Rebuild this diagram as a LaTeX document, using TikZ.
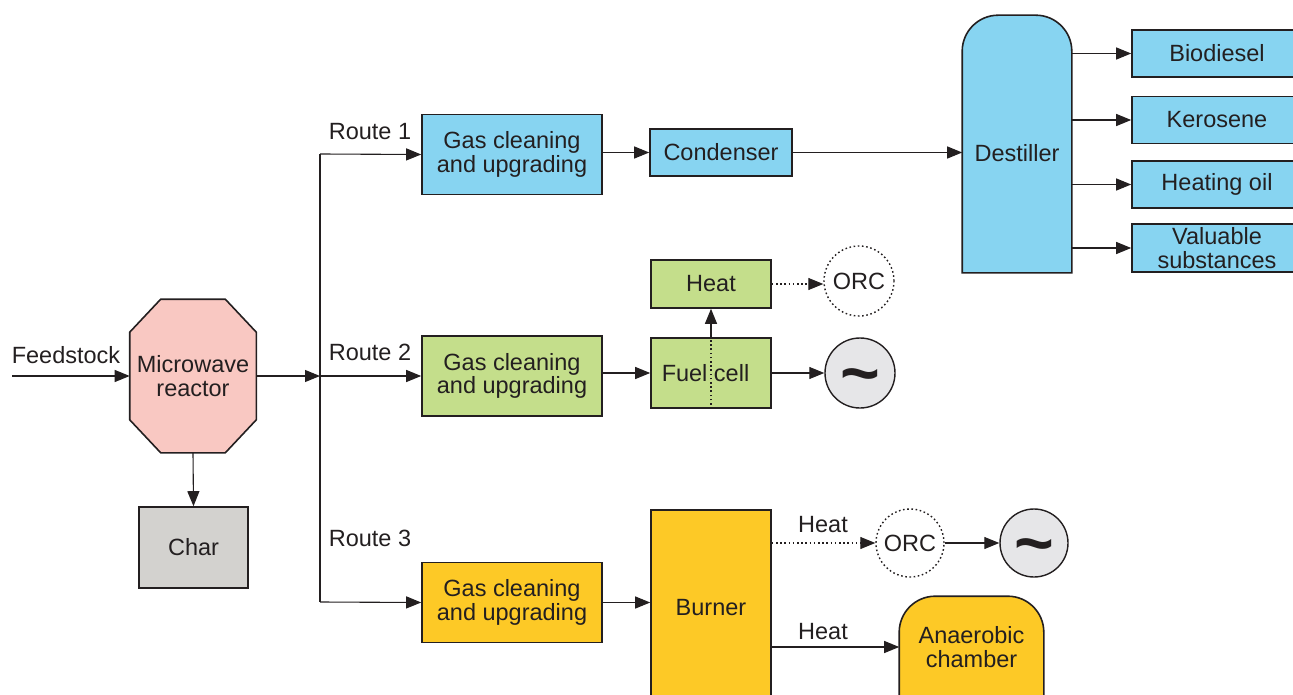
\documentclass[tikz,border=0pt]{standalone}
\usepackage{fontspec}
\setmainfont{Liberation Sans}
\usepackage{tikz}
\usetikzlibrary{arrows.meta,backgrounds}
\definecolor{ink}{HTML}{231F20}
\definecolor{routeone}{HTML}{87D4F1}
\definecolor{routetwo}{HTML}{C4DE8B}
\definecolor{routethree}{HTML}{FDC926}
\definecolor{reactorfill}{HTML}{F9C8C2}
\definecolor{charfill}{HTML}{D3D2CF}
\definecolor{genfill}{HTML}{E6E6E8}
\tikzstyle{box}=[rectangle,draw=ink,line width=1.6pt,inner sep=0pt,align=center,text=ink]
\tikzstyle{gasbox}=[box,minimum width=180pt,minimum height=80pt]
\tikzstyle{outbox}=[box,fill=routeone,minimum width=170pt,minimum height=47pt]
\tikzstyle{orc}=[circle,draw=ink,line width=1.4pt,dash pattern=on 1.6pt off 2.6pt,fill=white,inner sep=0pt,text=ink]
\tikzstyle{gen}=[circle,draw=ink,line width=1.4pt,fill=genfill,inner sep=0pt,text=ink]
\tikzstyle{outline}=[draw=ink,line width=1.6pt]
\tikzstyle{conn}=[draw=ink,line width=1.1pt]
\tikzstyle{arr}=[conn,-{Triangle[length=15pt,width=12pt]}]
\tikzstyle{dotarr}=[arr,dash pattern=on 1.6pt off 2.6pt]
\tikzstyle{txt}=[text=ink,inner sep=0pt]
\newcommand{\gensym}{\raisebox{-23pt}[0pt][0pt]{\fontsize{68}{68}\selectfont\bfseries\textasciitilde}}

\begin{document}
\begin{tikzpicture}[x=1pt,y=-1pt,every node/.style={font=\fontsize{23.5}{23.5}\selectfont}]
        \useasboundingbox (0,0) rectangle (1293,695);
        % reactor and char
        \node at (193,376) [box,draw=none,minimum width=125pt,minimum height=152pt] (reactor) {Microwave\\reactor};
        \node at (193.5,547.5) [box,fill=charfill,minimum width=109pt,minimum height=81pt] (char) {Char};
        \coordinate (feed) at (12,376);
        \node at (66,355) [txt] {Feedstock};
        % routes
        \coordinate (split) at (320,376);
        \coordinate (r1) at (320,154);
        \coordinate (r3) at (320,602);
        \node at (370,132) [txt] {Route 1};
        \node at (370,352) [txt] {Route 2};
        \node at (370,538) [txt] {Route 3};
        \node at (512,154.5) [gasbox,fill=routeone] (gc1) {Gas cleaning\\and upgrading};
        \node at (512,376) [gasbox,fill=routetwo] (gc2) {Gas cleaning\\and upgrading};
        \node at (512,602.5) [gasbox,fill=routethree] (gc3) {Gas cleaning\\and upgrading};
        % route 1
        \node at (721,152.5) [box,fill=routeone,minimum width=142pt,minimum height=47pt] (cond) {Condenser};
        \node at (1017,144) [box,draw=none,minimum width=108pt,minimum height=256pt,
              label={[txt,yshift=-9pt]center:Destiller}] (dest) {};
        \node at (1217,53.5) [outbox] (bio) {Biodiesel};
        \node at (1217,120) [outbox] (kero) {Kerosene};
        \node at (1217,184.5) [outbox] (oil) {Heating oil};
        \node at (1217,248) [outbox,minimum height=48pt] (val) {Valuable\\substances};
        % route 2
        \node at (711,373) [box,fill=routetwo,minimum width=120pt,minimum height=70pt] (fc) {Fuel cell\kern11pt};
        \node at (711,284) [box,fill=routetwo,minimum width=120pt,minimum height=48pt] (hb) {Heat};
        \node at (859,281) [orc,minimum size=70pt] (orc1) {ORC};
        \node at (860,373) [gen,minimum size=70pt] (gen1) {\gensym};
        % route 3
        \node at (711,608) [box,fill=routethree,minimum width=120pt,minimum height=196pt] (burner) {Burner};
        \node at (910,543) [orc,minimum size=68pt] (orc2) {ORC};
        \node at (1034,543) [gen,minimum size=68pt] (gen2) {\gensym};
        \node at (971.5,647) [box,draw=none,minimum width=143pt,minimum height=100pt] (anaer) {Anaerobic\\chamber};
        \node at (823,525) [txt] {Heat};
        \node at (823,632) [txt] {Heat};
        % shaped vessels
        \begin{scope}[on background layer]
          \draw [outline,fill=reactorfill] ([xshift=31pt]reactor.north west) -- ([xshift=-31pt]reactor.north east)
                -- ([yshift=-33pt]reactor.north east) -- ([yshift=33pt]reactor.south east)
                -- ([xshift=-31pt]reactor.south east) -- ([xshift=31pt]reactor.south west)
                -- ([yshift=33pt]reactor.south west) -- ([yshift=-33pt]reactor.north west) -- cycle;
          \draw [outline,fill=routeone] (dest.south west) -- ([yshift=-36pt]dest.north west)
                arc[start angle=180,end angle=90,radius=36pt] -- ([xshift=-36pt]dest.north east)
                arc[start angle=90,end angle=0,radius=36pt] -- (dest.south east) -- cycle;
          \draw [outline,fill=routethree] ([yshift=-80pt]anaer.south west) -- ([yshift=-36pt]anaer.north west)
                arc[start angle=180,end angle=90,radius=36pt] -- ([xshift=-36pt]anaer.north east)
                arc[start angle=90,end angle=0,radius=36pt] -- ([yshift=-80pt]anaer.south east) -- cycle;
        \end{scope}
        % connectors
        \draw [arr] (feed) -- (reactor.west);
        \draw [arr] (reactor.south) -- (char.north);
        \draw [arr] (reactor.east) -- (split);
        \draw [conn] (r1) -- (r3);
        \draw [arr] (r1) -- (gc1.west);
        \draw [arr] (split) -- (gc2.west);
        \draw [arr] (r3) -- (gc3.west);
        \draw [arr] (gc1.east |- cond.west) -- (cond.west);
        \draw [arr] (cond.east) -- (cond.east -| dest.west);
        \foreach \o in {bio,kero,oil,val}
          \draw [arr] (dest.east |- \o.west) -- (\o.west);
        \draw [arr] (gc2.east |- fc.west) -- (fc.west);
        \draw [conn,dash pattern=on 1.6pt off 2.6pt] (fc.south) -- (fc.north);
        \draw [arr] (fc.north) -- (hb.south);
        \draw [dotarr] (hb.east) -- (hb.east -| orc1.west);
        \draw [arr] (fc.east) -- (gen1.west);
        \draw [arr] (gc3.east) -- (gc3.east -| burner.west);
        \draw [dotarr] (burner.east |- orc2.west) -- (orc2.west);
        \draw [arr] (orc2.east) -- (gen2.west);
        \draw [arr] (burner.east |- anaer.west) -- (anaer.west);
      \end{tikzpicture}
\end{document}
